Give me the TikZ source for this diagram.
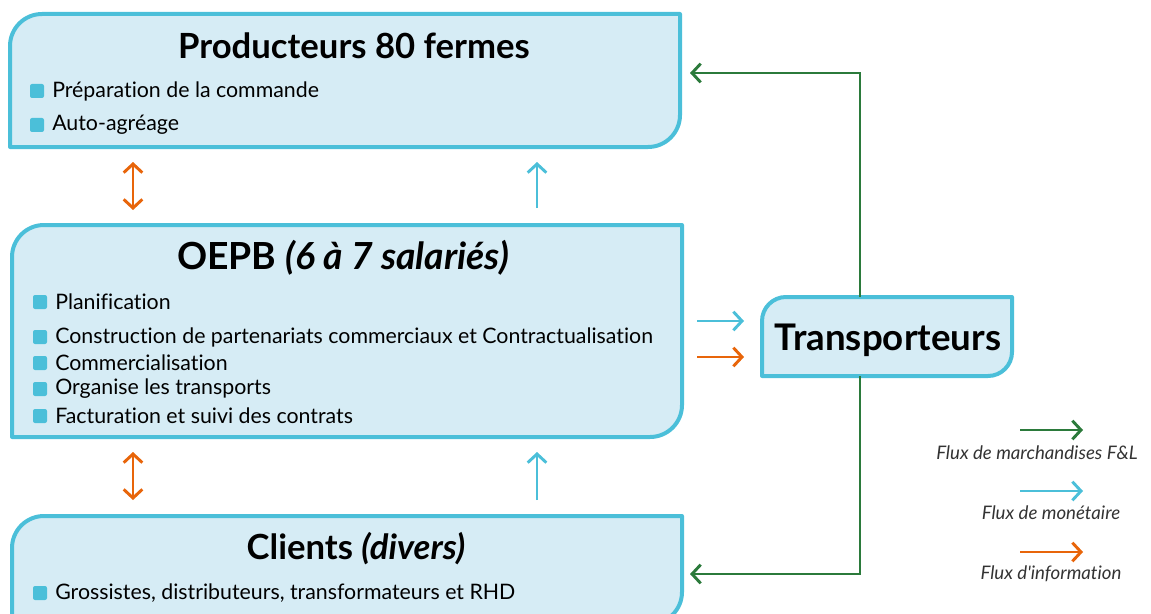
\documentclass[tikz,border=0pt]{standalone}
\usepackage{fontspec}
\setmainfont{Lato}[RawFeature={-liga;-dlig}]
\usetikzlibrary{arrows.meta}
\definecolor{boxfill}{HTML}{D6ECF5}
\definecolor{boxline}{HTML}{4BBFD9}
\definecolor{fgreen}{HTML}{2B7A3B}
\definecolor{forange}{HTML}{E8650A}
\definecolor{fcyan}{HTML}{4BBFD9}
\newcommand\cutbox[2]{\draw[boxshape] ([yshift=-#2]#1.north west) arc[start angle=180,end angle=90,radius=#2] -- (#1.north east) -- ([yshift=#2]#1.south east) arc[start angle=0,end angle=-90,radius=#2] -- (#1.south west) -- cycle;}
\tikzset{
  boxarea/.style={inner sep=0pt, outer sep=0pt, draw=none},
  boxshape/.style={draw=boxline, fill=boxfill, line width=3pt, line join=round},
  titletext/.style={font=\fontsize{26}{30}\selectfont\bfseries, inner sep=0pt},
  itemtext/.style={font=\fontsize{16}{19}\selectfont, anchor=west, inner sep=0pt},
  bullet/.style={fill=boxline, rounded corners=1.5pt, minimum size=10.5pt, inner sep=0pt},
  legtext/.style={font=\fontsize{14}{17}\selectfont\itshape, text=black!80, inner sep=0pt},
  flow/.style={line width=2.2pt, -{Straight Barb[length=6.5pt, width=14pt, line width=2.2pt]}},
  flow2/.style={line width=2.2pt, {Straight Barb[length=6.5pt, width=14pt, line width=2.2pt]}-{Straight Barb[length=6.5pt, width=14pt, line width=2.2pt]}},
}
\begin{document}
\begin{tikzpicture}[x=0.75pt, y=-0.75pt]
\useasboundingbox (0,0) rectangle (1151,613);
% boxes
\node[boxarea, minimum width=502.5pt, minimum height=99.75pt] (prod) at (345,80.5) {};
\node[boxarea, minimum width=502.5pt, minimum height=159pt] (oepb) at (347,331) {};
\node[boxarea, minimum width=502.5pt, minimum height=81pt] (cli) at (347,570) {};
\node[boxarea, minimum width=187.5pt, minimum height=59.25pt] (trans) at (887,336.5) {};
\cutbox{prod}{24pt}
\cutbox{oepb}{24pt}
\cutbox{cli}{24pt}
\cutbox{trans}{18pt}
% titles
\node[titletext] (tprod) at (354,46) {Producteurs 80 fermes};
\node[titletext, font=\fontsize{28}{32}\selectfont\bfseries] (toepb) at (343,258) {OEPB \textit{(6 à 7 salariés)}};
\node[titletext] (tcli) at (356,549) {Clients \textit{(divers)}};
\node[titletext, font=\fontsize{27.5}{32}\selectfont\bfseries] (ttrans) at (888,340) {Transporteurs};
% items
\node[bullet] (b1) at (37,91) {};
\node[itemtext] (i1) at (52,91) {Préparation de la commande};
\node[bullet] (b2) at (37,125) {};
\node[itemtext] (i2) at (52,125) {Auto-agréage};
\node[bullet] (b3) at (40,302) {};
\node[itemtext] (i3) at (55,302) {Planification};
\node[bullet] (b4) at (40,337) {};
\node[itemtext] (i4) at (55,337) {Construction de partenariats commerciaux et Contractualisation};
\node[bullet] (b5) at (40,363) {};
\node[itemtext] (i5) at (55,363) {Commercialisation};
\node[bullet] (b6) at (40,389) {};
\node[itemtext] (i6) at (55,389) {Organise les transports};
\node[bullet] (b7) at (40,416) {};
\node[itemtext] (i7) at (55,416) {Facturation et suivi des contrats};
\node[bullet] (b8) at (40,593) {};
\node[itemtext] (i8) at (55,593) {Grossistes, distributeurs, transformateurs et RHD};
% flow coordinates
\coordinate (o1a) at (133,162); \coordinate (o1b) at (133,210);
\coordinate (o2a) at (133,452); \coordinate (o2b) at (133,500);
\coordinate (c1a) at (537,208); \coordinate (c1b) at (537,162);
\coordinate (c2a) at (537,500); \coordinate (c2b) at (537,452);
\coordinate (c3a) at (697,321); \coordinate (c3b) at (744,321);
\coordinate (o3a) at (697,357); \coordinate (o3b) at (744,357);
\coordinate (gx) at (860,0);
\coordinate (gtop) at (690,73);
\coordinate (gbot) at (690,574);
\draw[flow2, forange] (o1a) -- (o1b);
\draw[flow2, forange] (o2a) -- (o2b);
\draw[flow, fcyan] (c1a) -- (c1b);
\draw[flow, fcyan] (c2a) -- (c2b);
\draw[flow, fcyan] (c3a) -- (c3b);
\draw[flow, forange] (o3a) -- (o3b);
\draw[flow, fgreen] (trans.north -| gx) |- (gtop);
\draw[flow, fgreen] (trans.south -| gx) |- (gbot);
% legend
\coordinate (l1a) at (1020,430); \coordinate (l1b) at (1083,430);
\coordinate (l2a) at (1020,491); \coordinate (l2b) at (1083,491);
\coordinate (l3a) at (1020,552); \coordinate (l3b) at (1083,552);
\draw[flow, fgreen] (l1a) -- (l1b);
\draw[flow, fcyan] (l2a) -- (l2b);
\draw[flow, forange] (l3a) -- (l3b);
\node[legtext] (lt1) at (1037,453) {Flux de marchandises F\&L};
\node[legtext] (lt2) at (1051,513) {Flux de monétaire};
\node[legtext] (lt3) at (1051,574) {Flux d\textquotesingle information};
\end{tikzpicture}
\end{document}
